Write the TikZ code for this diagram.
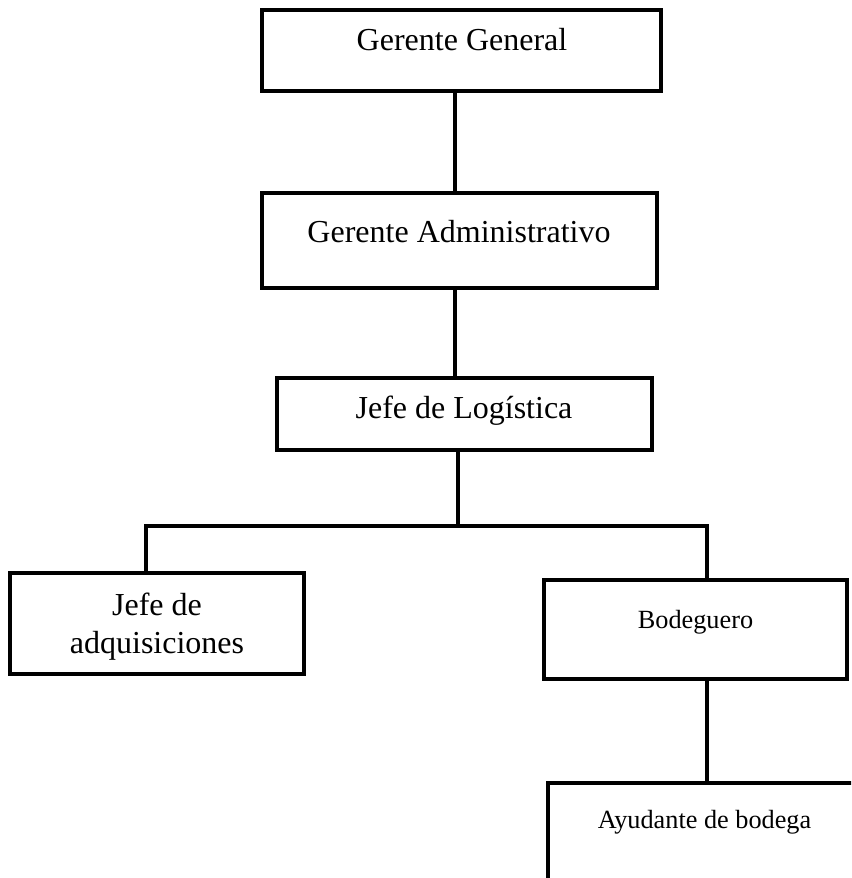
\documentclass[tikz,border=0pt]{standalone}
\usepackage{fontspec}
\setmainfont{Liberation Serif}
\usetikzlibrary{fit}
\begin{document}
\begin{tikzpicture}[x=0.75pt,y=-0.75pt,
  box/.style={draw=black, line width=3pt, fill=white, inner sep=0pt, outer sep=0pt},
  bigtext/.style={font=\fontsize{24}{28.5}\selectfont, inner sep=0pt, align=center},
  smalltext/.style={font=\fontsize{19.7}{24}\selectfont, inner sep=0pt},
  link/.style={line width=3pt, line cap=rect}]
\useasboundingbox (0,0) rectangle (851,878);
\clip (0,0) rectangle (851,878);

% reference columns and the branching bar
\coordinate (spine) at (455,0);
\coordinate (jx) at (458,0);
\coordinate (lx) at (146,0);
\coordinate (rx) at (707,0);
\coordinate (bar) at (0,526);

% boxes
\node[box, fit={(262,10) (661,91)}] (gg) {};
\node[box, fit={(262,193) (657,288)}] (ga) {};
\node[box, fit={(277,378) (652,450)}] (jl) {};
\node[box, fit={(10,573) (304,674)}] (ja) {};
\node[box, fit={(544,580) (847,679)}] (bod) {};
\node[box, fit={(548,783) (861,885)}] (ayu) {};

% labels
\node[bigtext, anchor=base] (tgg) at (462,50) {Gerente General};
\node[bigtext, anchor=base] (tga) at (459,242) {Gerente Administrativo};
\node[bigtext, anchor=base] (tjl) at (464,418) {Jefe de Logística};
\node[bigtext, anchor=center] (tja) at (157,626.5) {Jefe de\\adquisiciones};
\node[smalltext, anchor=base] (tbod) at (695.5,628) {Bodeguero};
\node[smalltext, anchor=base] (tayu) at (704.5,828) {Ayudante de bodega};

% connectors
\draw[link] (gg.south -| spine) -- (ga.north -| spine);
\draw[link] (ga.south -| spine) -- (jl.north -| spine);
\draw[link] (jl.south -| jx) -- (jx |- bar);
\draw[line width=3pt] (ja.north -| lx) -- (lx |- bar) -- (rx |- bar) -- (bod.north -| rx);
\draw[link] (bod.south -| rx) -- (ayu.north -| rx);
\end{tikzpicture}
\end{document}
